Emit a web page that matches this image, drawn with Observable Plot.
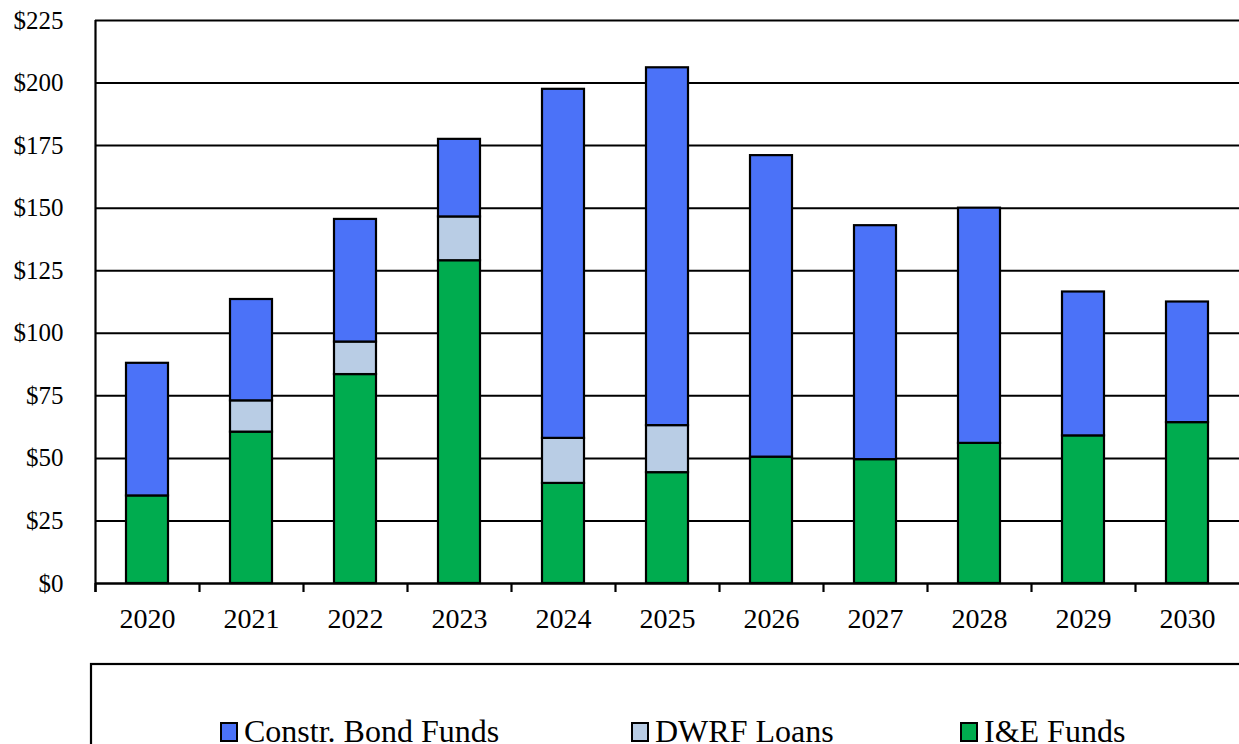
<!DOCTYPE html>
<html>
<head>
<meta charset="utf-8">
<script src="https://cdn.jsdelivr.net/npm/d3@7"></script>
<script src="https://cdn.jsdelivr.net/npm/@observablehq/plot@0.6"></script>
<style>
  html, body { margin: 0; padding: 0; background: #fff; overflow: hidden; }
</style>
</head>
<body>
<div id="chart"></div>
<script>
const years = [2020, 2021, 2022, 2023, 2024, 2025, 2026, 2027, 2028, 2029, 2030];
const ieFunds   = [35, 60.5, 83.5, 129, 40, 44.3, 50.5, 49.5, 56, 59, 64.3];
const dwrfLoans = [0, 12.5, 13, 17.5, 18, 18.8, 0, 0, 0, 0, 0];
const bondFunds = [53, 40.5, 49, 31, 139.5, 143, 120.5, 93.5, 94, 57.5, 48.2];
const seriesNames = ["Constr. Bond Funds", "DWRF Loans", "I&E Funds"];
const seriesColors = ["#4B72F8", "#B9CDE5", "#00AC4F"];
const yTicks = [0, 25, 50, 75, 100, 125, 150, 175, 200, 225];

const rows = [];
years.forEach((yr, i) => {
  rows.push({year: String(yr), series: "I&E Funds", value: ieFunds[i], order: 0});
  rows.push({year: String(yr), series: "DWRF Loans", value: dwrfLoans[i], order: 1});
  rows.push({year: String(yr), series: "Constr. Bond Funds", value: bondFunds[i], order: 2});
});
const yearStr = years.map(String);
const W = 1239, H = 744, mL = 95, mR = 0, mT = 20, mB = 744 - 583;
const step = (W - mL - mR) / years.length;
const serif = "'Liberation Serif', 'Times New Roman', serif";

const chart = Plot.plot({
  width: W,
  height: H,
  marginLeft: mL,
  marginRight: mR,
  marginTop: mT,
  marginBottom: mB,
  style: {fontFamily: serif, color: "#000", background: "#fff", overflow: "visible"},
  x: {domain: yearStr, paddingInner: 0.6, paddingOuter: 0.3, label: null},
  y: {domain: [0, 225], label: null},
  color: {domain: seriesNames, range: seriesColors},
  marks: [
    Plot.ruleY(yTicks, {stroke: "#000", strokeWidth: 2}),
    Plot.barY(rows.filter(d => d.value > 0), Plot.stackY({
      x: "year", y: "value", fill: "series", order: "order",
      stroke: "#000", strokeWidth: 2.2
    })),
    // left axis line and category boundary ticks
    Plot.ruleX([yearStr[0]], {x: d => d, dx: -step / 2, y1: -3.6, y2: 225, stroke: "#000", strokeWidth: 2.2}),
    Plot.ruleX(yearStr, {x: d => d, dx: -step / 2, y1: -3.6, y2: 0, stroke: "#000", strokeWidth: 2.2}),
    Plot.ruleY([0], {stroke: "#000", strokeWidth: 2.2}),
    Plot.axisY(yTicks, {tickSize: 0, tickPadding: 32, fontSize: 25, tickFormat: d => "$" + d, fill: "#000", label: null}),
    Plot.axisX({tickSize: 0, tickPadding: 25, fontSize: 28, fill: "#000", label: null})
  ]
});

const svg = d3.select(chart);
const lg = svg.append("g").attr("text-anchor", "start");
lg.append("rect").attr("x", 91).attr("y", 664).attr("width", 1300).attr("height", 300)
  .attr("fill", "none").attr("stroke", "#000").attr("stroke-width", 2.2);
const markerX = [221, 632, 961];
const textX = [244, 655, 984];
seriesNames.forEach((name, i) => {
  lg.append("rect").attr("x", markerX[i]).attr("y", 723).attr("width", 16).attr("height", 18)
    .attr("fill", seriesColors[i]).attr("stroke", "#000").attr("stroke-width", 2);
  lg.append("text").attr("x", textX[i]).attr("y", 742)
    .attr("text-anchor", "start")
    .attr("font-size", 32).attr("fill", "#000")
    .attr("font-family", serif)
    .text(name);
});

document.getElementById("chart").appendChild(chart);
</script>
</body>
</html>
